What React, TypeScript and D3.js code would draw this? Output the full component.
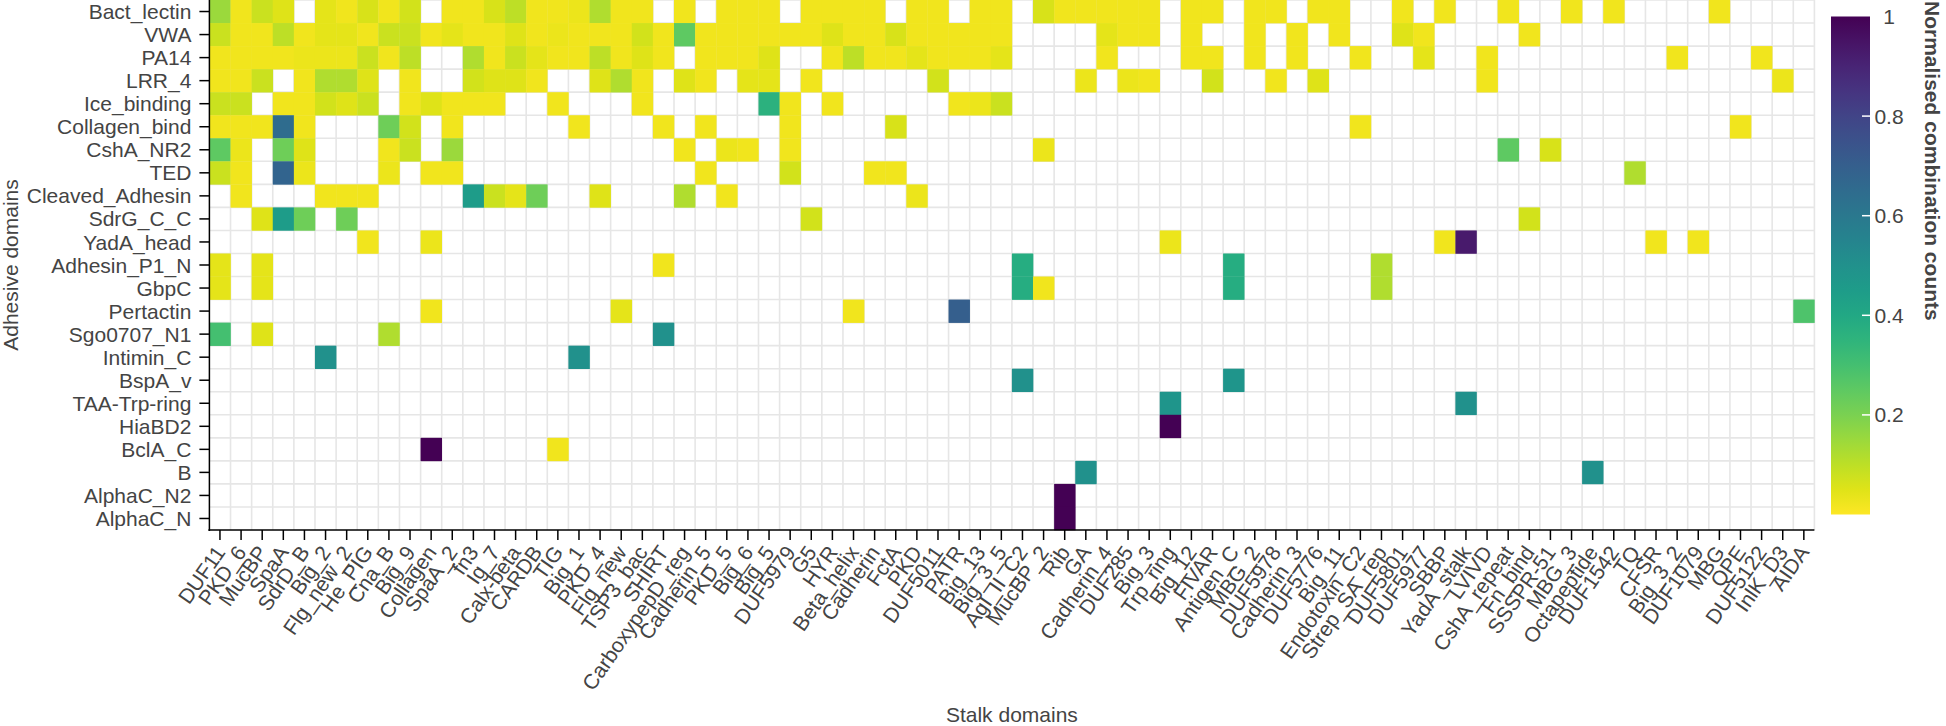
import React from "react";
import * as d3 from "d3";

// ---------- categories ----------
const adhesiveDomains = [
  "Bact_lectin", "VWA", "PA14", "LRR_4", "Ice_binding", "Collagen_bind", "CshA_NR2", "TED",
  "Cleaved_Adhesin", "SdrG_C_C", "YadA_head", "Adhesin_P1_N", "GbpC", "Pertactin", "Sgo0707_N1",
  "Intimin_C", "BspA_v", "TAA-Trp-ring", "HiaBD2", "BclA_C", "B", "AlphaC_N2", "AlphaC_N",
];

const stalkDomains = [
  "DUF11", "PKD_6", "MucBP", "SpaA", "SdrD_B", "Big_2", "Flg_new_2", "He_PIG", "Cna_B", "Big_9",
  "Collagen", "SpaA_2", "fn3", "Ig_7", "Calx-beta", "CARDB", "TIG", "Big_1", "PKD_4", "Flg_new",
  "TSP3_bac", "SHIRT", "CarboxypepD_reg", "Cadherin_5", "PKD_5", "Big_6", "Big_5", "DUF5979", "G5", "HYR",
  "Beta_helix", "Cadherin", "FctA", "PKD", "DUF5011", "PATR", "Big_13", "Big_3_5", "AgI_II_C2", "MucBP_2",
  "Rib", "GA", "Cadherin_4", "DUF285", "Big_3", "Trp_ring", "Big_12", "FIVAR", "Antigen_C", "MBG_2",
  "DUF5978", "Cadherin_3", "DUF5776", "Big_11", "Endotoxin_C2", "Strep_SA_rep", "DUF5801", "DUF5977", "SBBP", "YadA_stalk",
  "LVIVD", "CshA_repeat", "Fn_bind", "SSSPR-51", "MBG_3", "Octapeptide", "DUF1542", "TQ", "CFSR", "Big_3_2",
  "DUF1079", "MBG", "QPE", "DUF5122", "InlK_D3", "AIDA",
];

const colorbarTicks = [0.2, 0.4, 0.6, 0.8, 1];

// ---------- values (dense rows, in stalk-domain order; 0 = no combination) ----------
const bactLectin = [
  0.15, 0.02, 0.08, 0.05, 0, 0.04, 0.02, 0.06, 0.02, 0.07,
  0, 0.02, 0.02, 0.06, 0.1, 0.02, 0.02, 0.03, 0.12, 0.02,
  0.02, 0, 0.02, 0, 0.02, 0.02, 0.02, 0, 0.02, 0.02,
  0.02, 0.02, 0, 0.02, 0.02, 0, 0.02, 0.02, 0, 0.06,
  0.02, 0.02, 0.02, 0.02, 0.02, 0, 0.02, 0.02, 0, 0.02,
  0.02, 0, 0.02, 0.02, 0, 0, 0.02, 0, 0.02, 0,
  0, 0.02, 0, 0, 0.02, 0, 0.02, 0, 0, 0,
  0, 0.02, 0, 0, 0, 0,
];
const vwa = [
  0.08, 0.02, 0.02, 0.1, 0.02, 0.04, 0.04, 0.02, 0.08, 0.08,
  0.02, 0.04, 0.02, 0.02, 0.05, 0.02, 0.03, 0.02, 0.02, 0.02,
  0.07, 0.02, 0.25, 0.02, 0.02, 0.02, 0.02, 0.02, 0.02, 0.05,
  0.02, 0.02, 0.06, 0.02, 0.02, 0.02, 0.02, 0.02, 0, 0,
  0, 0, 0.04, 0.02, 0.02, 0, 0.02, 0, 0, 0.02,
  0, 0.02, 0, 0.02, 0, 0, 0.05, 0.02, 0, 0,
  0, 0, 0.02, 0, 0, 0, 0, 0, 0, 0,
  0, 0, 0, 0, 0, 0,
];
const pa14 = [
  0.02, 0.02, 0.02, 0.02, 0.03, 0.03, 0.03, 0.08, 0.02, 0.1,
  0, 0, 0.12, 0.02, 0.08, 0.04, 0.02, 0.02, 0.1, 0.02,
  0.05, 0.02, 0, 0.02, 0.02, 0.02, 0.05, 0, 0, 0.02,
  0.1, 0.02, 0.02, 0.04, 0.02, 0.02, 0.02, 0.04, 0, 0,
  0, 0, 0.02, 0, 0, 0, 0.02, 0.02, 0, 0.02,
  0, 0.02, 0, 0, 0.02, 0, 0, 0.04, 0, 0,
  0.02, 0, 0, 0, 0, 0, 0, 0, 0, 0.02,
  0, 0, 0, 0.02, 0, 0,
];
const lrr4 = [
  0.02, 0.02, 0.08, 0, 0.02, 0.12, 0.12, 0.05, 0, 0.02,
  0, 0, 0.07, 0.05, 0.05, 0.02, 0, 0, 0.05, 0.12,
  0.02, 0, 0.05, 0.02, 0, 0.04, 0.04, 0, 0.02, 0,
  0, 0, 0, 0, 0.07, 0, 0, 0, 0, 0,
  0, 0.03, 0, 0.03, 0.02, 0, 0, 0.07, 0, 0,
  0.02, 0, 0.05, 0, 0, 0, 0, 0, 0, 0,
  0.02, 0, 0, 0, 0, 0, 0, 0, 0, 0,
  0, 0, 0, 0, 0.03, 0,
];
const iceBinding = [
  0.08, 0.08, 0, 0.02, 0.02, 0.07, 0.05, 0.08, 0, 0.02,
  0.05, 0.02, 0.02, 0.02, 0, 0, 0.02, 0, 0, 0,
  0.02, 0, 0, 0, 0, 0, 0.36, 0.02, 0, 0.02,
  0, 0, 0, 0, 0, 0.02, 0.03, 0.08, 0, 0,
  0, 0, 0, 0, 0, 0, 0, 0, 0, 0,
  0, 0, 0, 0, 0, 0, 0, 0, 0, 0,
  0, 0, 0, 0, 0, 0, 0, 0, 0, 0,
  0, 0, 0, 0, 0, 0,
];
const collagenBind = [
  0.02, 0.02, 0.02, 0.65, 0.02, 0, 0, 0, 0.22, 0.07,
  0, 0.02, 0, 0, 0, 0, 0, 0.02, 0, 0,
  0, 0.02, 0, 0.02, 0, 0, 0, 0.02, 0, 0,
  0, 0, 0.06, 0, 0, 0, 0, 0, 0, 0,
  0, 0, 0, 0, 0, 0, 0, 0, 0, 0,
  0, 0, 0, 0, 0.02, 0, 0, 0, 0, 0,
  0, 0, 0, 0, 0, 0, 0, 0, 0, 0,
  0, 0, 0.02, 0, 0, 0,
];
const cshANR2 = [
  0.25, 0.03, 0, 0.22, 0.05, 0, 0, 0, 0.02, 0.08,
  0, 0.15, 0, 0, 0, 0, 0, 0, 0, 0,
  0, 0, 0.02, 0, 0.03, 0.02, 0, 0.02, 0, 0,
  0, 0, 0, 0, 0, 0, 0, 0, 0, 0.03,
  0, 0, 0, 0, 0, 0, 0, 0, 0, 0,
  0, 0, 0, 0, 0, 0, 0, 0, 0, 0,
  0, 0.25, 0, 0.06, 0, 0, 0, 0, 0, 0,
  0, 0, 0, 0, 0, 0,
];
const ted = [
  0.08, 0.02, 0, 0.68, 0.03, 0, 0, 0, 0.03, 0,
  0.02, 0.02, 0, 0, 0, 0, 0, 0, 0, 0,
  0, 0, 0, 0.02, 0, 0, 0, 0.07, 0, 0,
  0, 0.02, 0.02, 0, 0, 0, 0, 0, 0, 0,
  0, 0, 0, 0, 0, 0, 0, 0, 0, 0,
  0, 0, 0, 0, 0, 0, 0, 0, 0, 0,
  0, 0, 0, 0, 0, 0, 0, 0.12, 0, 0,
  0, 0, 0, 0, 0, 0,
];
const cleavedAdhesin = [
  0, 0.02, 0, 0, 0, 0.02, 0.02, 0.02, 0, 0,
  0, 0, 0.45, 0.08, 0.04, 0.22, 0, 0, 0.05, 0,
  0, 0, 0.12, 0, 0.02, 0, 0, 0, 0, 0,
  0, 0, 0, 0.03, 0, 0, 0, 0, 0, 0,
  0, 0, 0, 0, 0, 0, 0, 0, 0, 0,
  0, 0, 0, 0, 0, 0, 0, 0, 0, 0,
  0, 0, 0, 0, 0, 0, 0, 0, 0, 0,
  0, 0, 0, 0, 0, 0,
];

// ---------- values (sparse rows: stalk domain -> value) ----------
const sdrGCC: Record<string, number> = { MucBP: 0.05, SpaA: 0.45, SdrD_B: 0.22, Flg_new_2: 0.22, G5: 0.07, Fn_bind: 0.07 };
const yadAHead: Record<string, number> = { He_PIG: 0.02, Collagen: 0.03, Trp_ring: 0.03, SBBP: 0.02, YadA_stalk: 0.93, CFSR: 0.02, DUF1079: 0.02 };
const adhesinP1N: Record<string, number> = { DUF11: 0.04, MucBP: 0.04, SHIRT: 0.02, AgI_II_C2: 0.38, Antigen_C: 0.38, Strep_SA_rep: 0.12 };
const gbpC: Record<string, number> = { DUF11: 0.04, MucBP: 0.04, AgI_II_C2: 0.38, MucBP_2: 0.02, Antigen_C: 0.38, Strep_SA_rep: 0.12 };
const pertactin: Record<string, number> = { Collagen: 0.02, Flg_new: 0.04, Beta_helix: 0.02, PATR: 0.7, AIDA: 0.28 };
const sgo0707N1: Record<string, number> = { DUF11: 0.3, MucBP: 0.05, Cna_B: 0.12, SHIRT: 0.5 };
const intiminC: Record<string, number> = { Big_2: 0.5, Big_1: 0.5 };
const bspAV: Record<string, number> = { AgI_II_C2: 0.5, Antigen_C: 0.48 };
const taaTrpRing: Record<string, number> = { Trp_ring: 0.48, YadA_stalk: 0.5 };
const hiaBD2: Record<string, number> = { Trp_ring: 1 };
const bclAC: Record<string, number> = { Collagen: 1, TIG: 0.02 };
const bDomain: Record<string, number> = { GA: 0.5, Octapeptide: 0.5 };
const alphaCN2: Record<string, number> = { Rib: 1 };
const alphaCN: Record<string, number> = { Rib: 1 };

const denseRows = [bactLectin, vwa, pa14, lrr4, iceBinding, collagenBind, cshANR2, ted, cleavedAdhesin];
const sparseRows = [sdrGCC, yadAHead, adhesinP1N, gbpC, pertactin, sgo0707N1, intiminC, bspAV, taaTrpRing, hiaBD2, bclAC, bDomain, alphaCN2, alphaCN];

type Cell = { row: string; col: string; v: number };
const cells: Cell[] = [];
denseRows.forEach((arr, ri) => {
  arr.forEach((v, ci) => {
    if (v > 0) cells.push({ row: adhesiveDomains[ri], col: stalkDomains[ci], v });
  });
});
sparseRows.forEach((obj, i) => {
  Object.entries(obj).forEach(([col, v]) => {
    cells.push({ row: adhesiveDomains[denseRows.length + i], col, v });
  });
});

// ---------- layout ----------
const W = 1946;
const H = 726;
const plotLeft = 209.4;
const plotRight = 1814.4;
const plotTop = 0;
const plotBottom = 530;
const FONT = "'Liberation Sans', Arial, Helvetica, sans-serif";
const TXT = "#444";
const cbLeft = 1831;
const cbRight = 1870;
const cbTop = 16.5;
const cbBottom = 514.5;

const color = (v: number) => d3.interpolateViridis(1 - v);

export default function App() {
  const x = d3.scaleBand<string>().domain(stalkDomains).range([plotLeft, plotRight]).padding(0);
  const y = d3.scaleBand<string>().domain(adhesiveDomains).range([plotTop, plotBottom]).padding(0);
  const cb = d3.scaleLinear().domain([0, 1]).range([cbBottom, cbTop]);
  const bw = x.bandwidth();
  const bh = y.bandwidth();

  const gradStops = d3.range(0, 1.0001, 0.05);

  return (
    <svg
      width={W}
      height={H}
      style={{ position: "absolute", left: 0, top: 0, display: "block", background: "#fff" }}
      fontFamily={FONT}
    >
      <defs>
        <linearGradient id="cbgrad" x1="0" y1="1" x2="0" y2="0">
          {gradStops.map((t) => (
            <stop key={t} offset={`${t * 100}%`} stopColor={color(t)} />
          ))}
        </linearGradient>
      </defs>

      {/* grid */}
      <g stroke="#e6e6e6" strokeWidth={1.6}>
        {stalkDomains.map((d) => (
          <line key={"gx" + d} x1={x(d)! + bw} x2={x(d)! + bw} y1={plotTop} y2={plotBottom} />
        ))}
        {adhesiveDomains.map((d) => (
          <line key={"gy" + d} x1={plotLeft} x2={plotRight} y1={y(d)!} y2={y(d)!} />
        ))}
      </g>

      {/* cells */}
      <g>
        {cells.map((c, i) => (
          <rect key={i} x={x(c.col)!} y={y(c.row)!} width={bw + 0.3} height={bh + 0.3} fill={color(c.v)} />
        ))}
      </g>

      {/* y axis */}
      <g>
        <line x1={plotLeft} x2={plotLeft} y1={plotTop} y2={plotBottom + 1} stroke="#000" strokeWidth={1.5} />
        {adhesiveDomains.map((d) => {
          const cy = y(d)! + bh / 2;
          return (
            <g key={"yt" + d}>
              <line x1={plotLeft - 10} x2={plotLeft} y1={cy} y2={cy} stroke="#000" strokeWidth={1.5} />
              <text x={plotLeft - 18} y={cy} dy="0.36em" textAnchor="end" fontSize={21} fill={TXT}>
                {d}
              </text>
            </g>
          );
        })}
      </g>

      {/* x axis */}
      <g>
        <line x1={plotLeft - 1} x2={plotRight} y1={plotBottom} y2={plotBottom} stroke="#000" strokeWidth={1.5} />
        {stalkDomains.map((d) => {
          const cx = x(d)! + bw / 2;
          return (
            <g key={"xt" + d}>
              <line x1={cx} x2={cx} y1={plotBottom} y2={plotBottom + 10} stroke="#000" strokeWidth={1.5} />
              <text
                transform={`translate(${cx},${plotBottom + 18}) rotate(-55)`}
                dy="0.36em"
                textAnchor="end"
                fontSize={21}
                fill={TXT}
              >
                {d}
              </text>
            </g>
          );
        })}
      </g>

      {/* axis titles */}
      <text x={(plotLeft + plotRight) / 2} y={722} textAnchor="middle" fontSize={21} fill={TXT}>
        Stalk domains
      </text>
      <text
        transform={`translate(18,${(plotTop + plotBottom) / 2}) rotate(-90)`}
        textAnchor="middle"
        fontSize={21}
        fill={TXT}
      >
        Adhesive domains
      </text>

      {/* colorbar */}
      <rect x={cbLeft} y={cbTop} width={cbRight - cbLeft} height={cbBottom - cbTop} fill="url(#cbgrad)" />
      {colorbarTicks.map((t) => (
        <g key={"cb" + t}>
          {t < 1 && (
            <line x1={cbRight - 8} x2={cbRight} y1={cb(t)} y2={cb(t)} stroke="#fff" strokeWidth={1.5} />
          )}
          <text x={1889} y={cb(t)} dy="0.36em" textAnchor="middle" fontSize={21} fill={TXT}>
            {t === 1 ? "1" : t.toFixed(1)}
          </text>
        </g>
      ))}
      <text
        transform={`translate(1925,1) rotate(90)`}
        textAnchor="start"
        fontSize={21}
        fontWeight="bold"
        fill={TXT}
      >
        Normalised combination counts
      </text>
    </svg>
  );
}
